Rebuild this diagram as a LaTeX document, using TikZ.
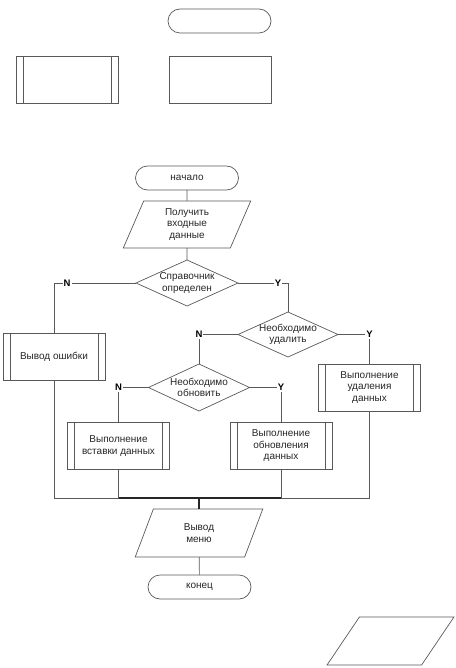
\documentclass[tikz,border=0pt]{standalone}
\usepackage{fontspec}
\setmainfont{Liberation Sans}
\usetikzlibrary{positioning, shapes.geometric, shapes.misc}

\begin{document}
\begin{tikzpicture}[x=1pt, y=-1pt, font=\fontsize{10}{11.5}\selectfont,
        every node/.style={outer sep=0pt, text=black!85},
        line/.style={draw=black!65, line width=0.7pt},
        merge/.style={draw=black!85, line width=1.4pt},
        term/.style={rectangle, rounded corners=12pt, draw=black!65, line width=0.7pt,
            minimum width=103pt, minimum height=24pt},
        proc/.style={rectangle, draw=black!65, line width=0.7pt, align=center,
            minimum width=102pt, minimum height=47pt},
        sub/.style={proc, path picture={
            \draw[black!65, line width=0.7pt]
                ([xshift=7pt]path picture bounding box.north west) -- ([xshift=7pt]path picture bounding box.south west)
                ([xshift=-7pt]path picture bounding box.north east) -- ([xshift=-7pt]path picture bounding box.south east);}},
        io/.style={trapezium, trapezium left angle=72, trapezium right angle=108, trapezium stretches=true,
            draw=black!65, line width=0.7pt, align=center, inner sep=0pt,
            minimum width=128pt, minimum height=47pt},
        cond/.style={diamond, draw=black!65, line width=0.7pt, align=center, inner sep=-3pt, aspect=2.2,
            minimum width=102pt, minimum height=46pt},
        lbl/.style={font=\fontsize{9.5}{11}\selectfont\bfseries, fill=white, inner sep=1pt, text=black}]
        \useasboundingbox (0,0) rectangle (455,668);

        \node[term] (t0) at (219.5,21) {};
        \node[sub] (s0) at (67.5,79.5) {};
        \node[proc] (p0) at (220,79.5) {};

        \node[term] (beg) at (187,178) {начало};
        \node[io] (inp) at (187,224.5) {Получить\\входные\\данные};
        \node[cond] (ref) at (187,283) {Справочник\\определен};
        \node[sub] (err) at (54,356.5) {Вывод ошибки};
        \node[cond, minimum width=100pt, minimum height=45pt] (del) at (288,334.5) {Необходимо\\удалить};
        \node[cond, minimum width=101pt, minimum height=47pt] (upd) at (199,387.5) {Необходимо\\обновить};
        \node[sub] (dodel) at (369.5,387.5) {Выполнение\\удаления\\данных};
        \node[sub] (doins) at (118.5,446) {Выполнение\\вставки данных};
        \node[sub] (doupd) at (281,446) {Выполнение\\обновления\\данных};
        \coordinate (join) at (199,498);
        \node[io, minimum height=48pt] (out) at (199,533) {Вывод\\меню};
        \node[term] (fin) at (199.5,587) {конец};

        \node[io, inner sep=3pt, trapezium left angle=62.5, trapezium right angle=117.5,
            minimum width=127pt, minimum height=48pt] (io0) at (390.5,641) {};

        \draw[line] (beg) -- (inp);
        \draw[line] (inp) -- (ref);
        \draw[line] (ref.west) -| node[lbl, pos=0.42] {N} (err.north);
        \draw[line] (ref.east) -| node[lbl, pos=0.4] {Y} (del.north);
        \draw[line] (del.west) -| node[lbl] {N} (upd.north);
        \draw[line] (del.east) -| node[lbl] {Y} (dodel.north);
        \draw[line] (upd.west) -| node[lbl] {N} (doins.north);
        \draw[line] (upd.east) -| node[lbl] {Y} (doupd.north);
        \draw[line] (err.south) |- (join);
        \draw[line] (dodel.south) |- (join);
        \draw[line] (doins.south) |- (join);
        \draw[line] (doupd.south) |- (join);
        \draw[merge] (doins.south |- join) -- (doupd.south |- join);
        \draw[merge] (join) -- (out);
        \draw[line] (out) -- (fin);
    \end{tikzpicture}
\end{document}
